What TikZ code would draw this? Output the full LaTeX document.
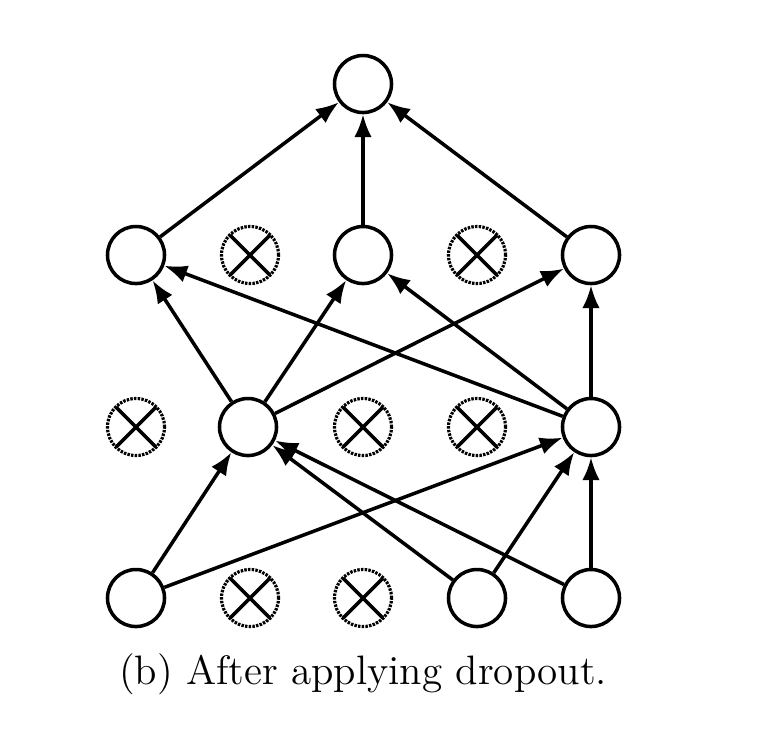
\documentclass[tikz,border=0pt]{standalone}
\usetikzlibrary{arrows.meta}

\tikzset{
  unit/.style={circle, draw, line width=1pt, minimum size=0.57cm, inner sep=0pt},
  dropped/.style={circle, draw, dash pattern=on 0.7pt off 0.35pt, line width=0.9pt, minimum size=0.57cm, inner sep=0pt,
    path picture={\draw[solid, line width=1pt]
      (path picture bounding box.north west) -- (path picture bounding box.south east)
      (path picture bounding box.north east) -- (path picture bounding box.south west);}},
  conn/.style={-{Latex[length=6.5pt,width=5pt]}, line width=1pt}
}

\begin{document}
\begin{tikzpicture}[x=0.01cm, y=-0.01cm]
    \useasboundingbox (0,0) rectangle (770,750);
    % output
    \node[unit] (out) at (363,84) {};
    % second hidden layer
    \node[unit]    (ha) at (136,255) {};
    \node[dropped] (hb) at (250,255) {};
    \node[unit]    (hc) at (363,255) {};
    \node[dropped] (hd) at (477,255) {};
    \node[unit]    (he) at (591,255) {};
    % first hidden layer
    \node[dropped] (ga) at (136,427) {};
    \node[unit]    (gb) at (248,427) {};
    \node[dropped] (gc) at (363,427) {};
    \node[dropped] (gd) at (477,427) {};
    \node[unit]    (ge) at (591,427) {};
    % input layer
    \node[unit]    (ia) at (136,598) {};
    \node[dropped] (ib) at (250,598) {};
    \node[dropped] (ic) at (363,598) {};
    \node[unit]    (id) at (477,598) {};
    \node[unit]    (ie) at (591,598) {};

    \foreach \s in {ha,hc,he}
        \draw[conn] (\s) -- (out);
    \foreach \s in {gb,ge}
        \foreach \t in {ha,hc,he}
            \draw[conn] (\s) -- (\t);
    \foreach \s in {ia,id,ie}
        \foreach \t in {gb,ge}
            \draw[conn] (\s) -- (\t);

    \node (caption) at (363,674) {\fontsize{11.7}{14}\selectfont (b) After applying dropout.};
\end{tikzpicture}
\end{document}
